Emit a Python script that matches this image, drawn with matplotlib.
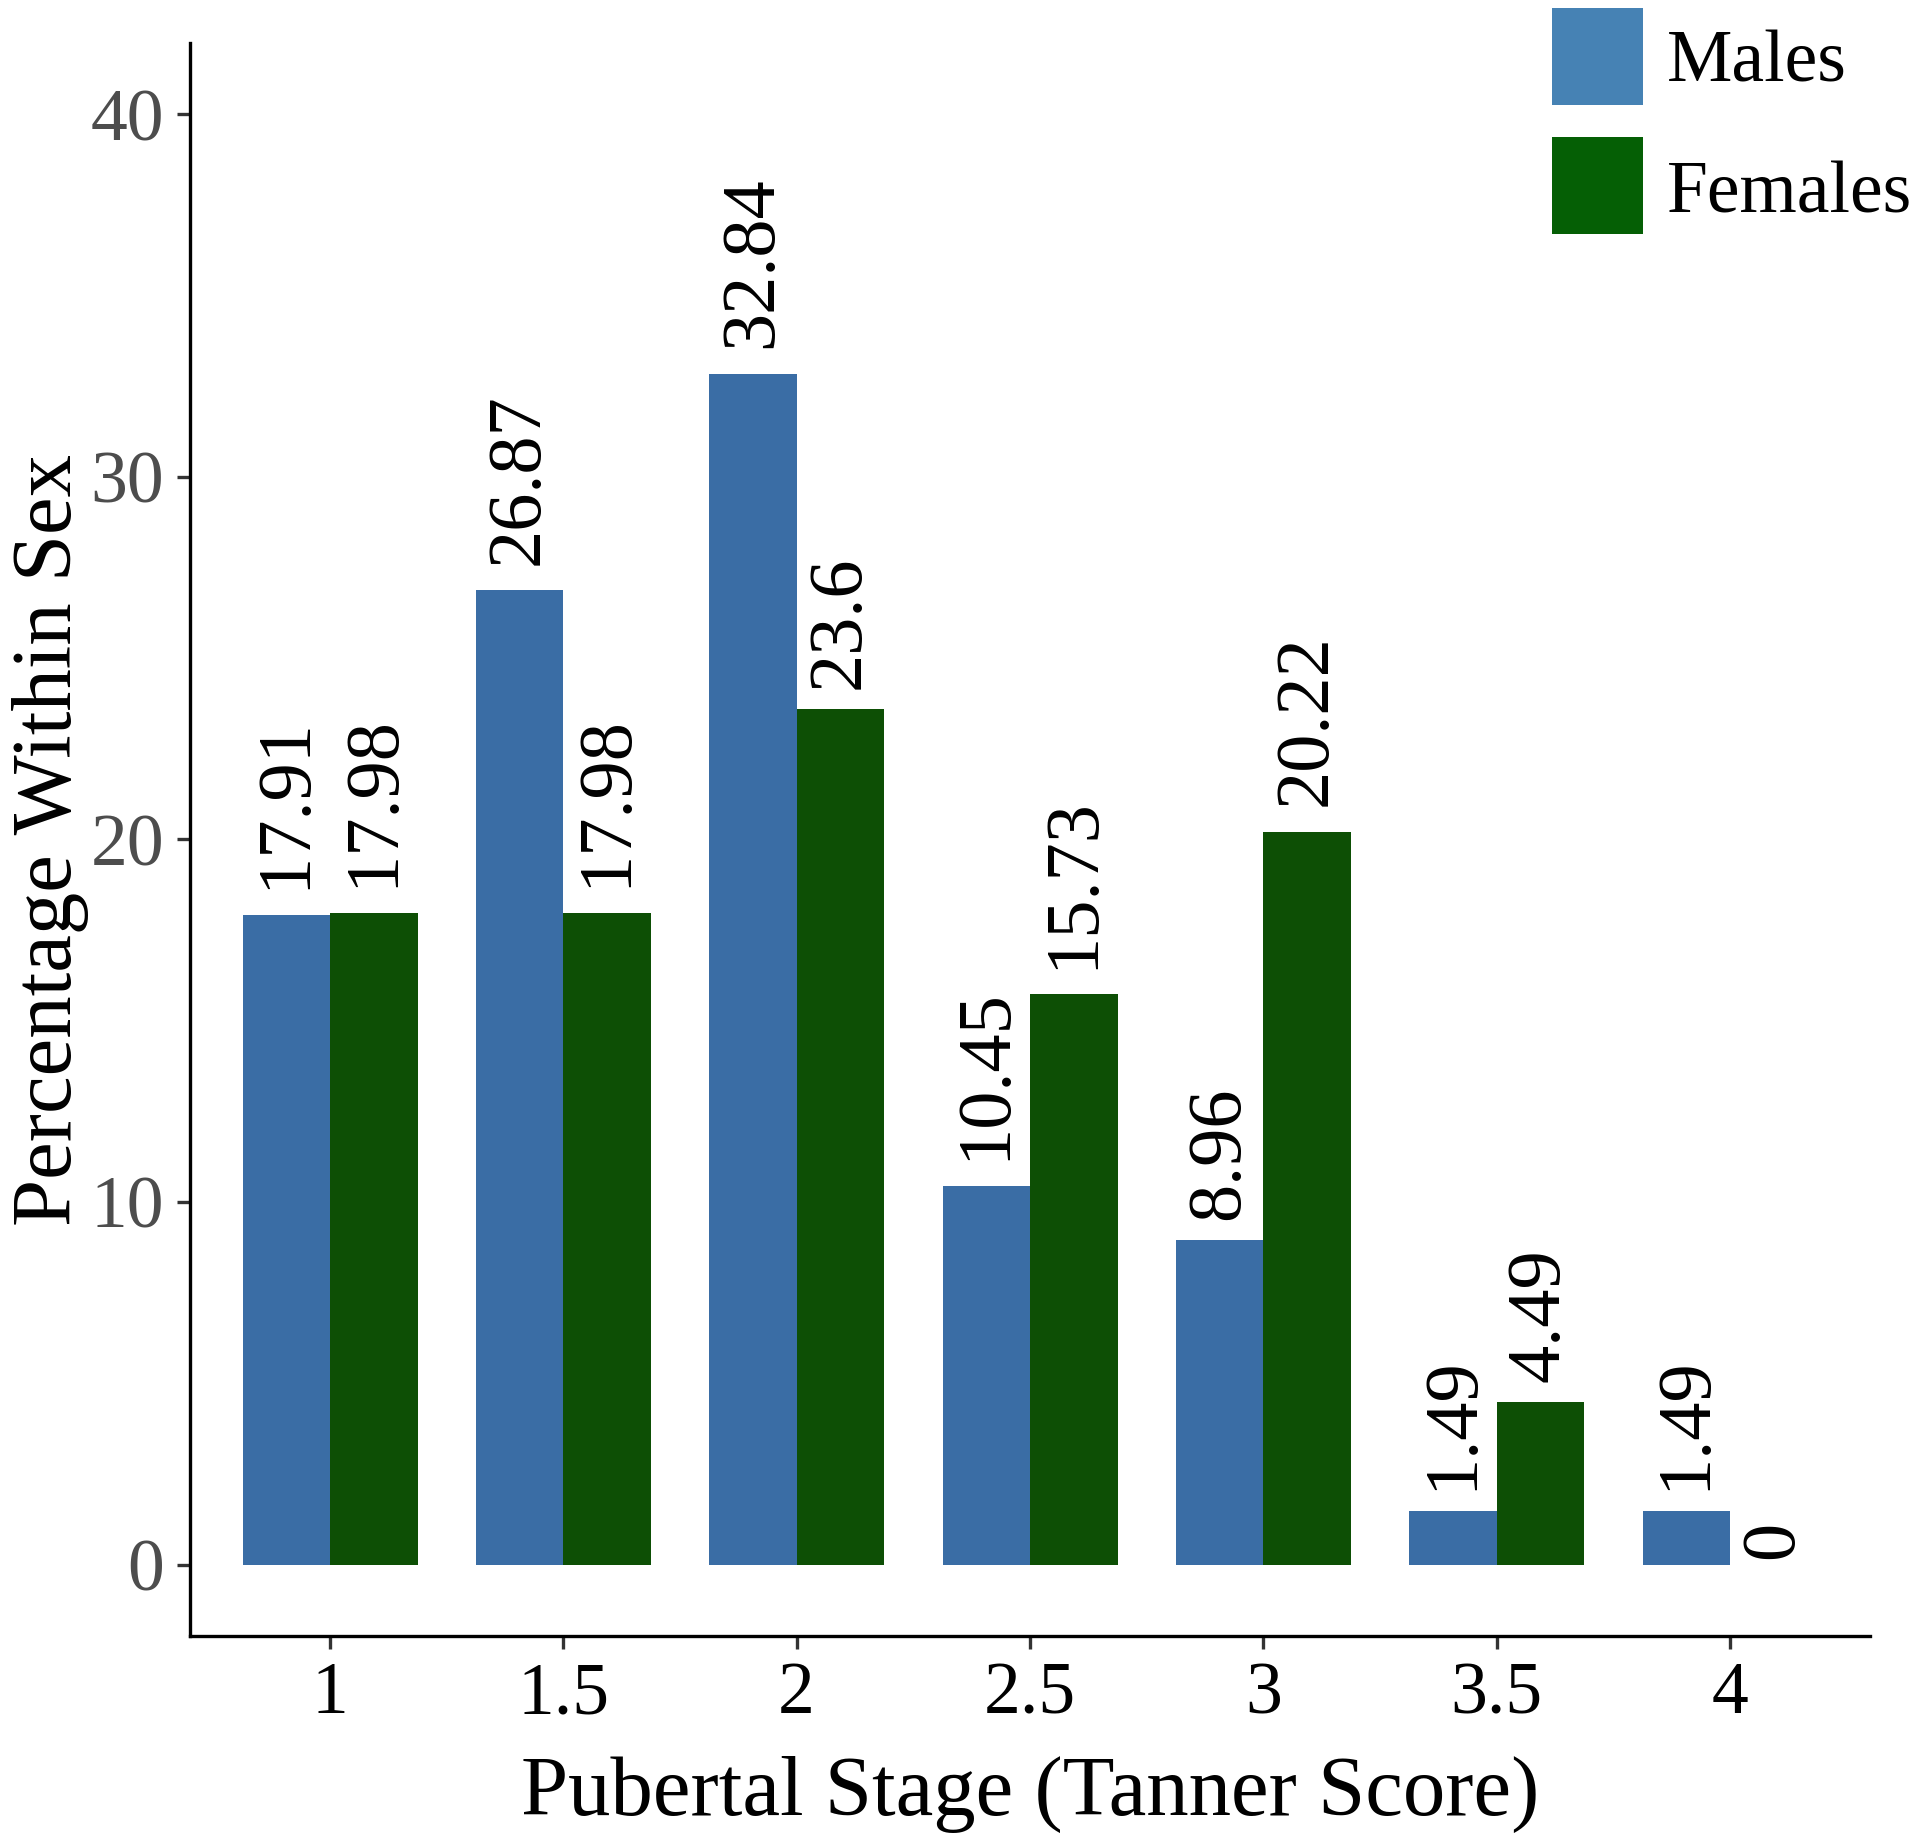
import matplotlib
matplotlib.use("Agg")
import matplotlib.pyplot as plt
from matplotlib.patches import Rectangle
import numpy as np

plt.rcParams['font.family'] = ['Liberation Serif', 'DejaVu Serif']

stages = ["1", "1.5", "2", "2.5", "3", "3.5", "4"]
males = [17.91, 26.87, 32.84, 10.45, 8.96, 1.49, 1.49]
females = [17.98, 17.98, 23.6, 15.73, 20.22, 4.49, 0]
male_labels = ["17.91", "26.87", "32.84", "10.45", "8.96", "1.49", "1.49"]
female_labels = ["17.98", "17.98", "23.6", "15.73", "20.22", "4.49", "0"]
series_names = ["Males", "Females"]
yticks = [0, 10, 20, 30, 40]

bar_colors = ["#3A6DA5", "#0D4F05"]
legend_colors = ["#4682B4", "#055F05"]

W, H = 1920, 1844
fig = plt.figure(figsize=(W / 100, H / 100), dpi=100)
ax = fig.add_axes([190 / W, 1 - 1636 / H, (1870 - 190) / W, (1636 - 43) / H])

x = np.arange(len(stages))
bw = 0.375
ax.bar(x - bw / 2, males, width=bw, color=bar_colors[0], linewidth=0)
ax.bar(x + bw / 2, females, width=bw, color=bar_colors[1], linewidth=0)

fs_lab = 55
texts = []
for xi, v, lbl in zip(x - bw / 2, males, male_labels):
    t = ax.annotate(lbl, (xi, v), xytext=(0, 0), textcoords='offset pixels',
                    rotation=90, ha='center', va='bottom', fontsize=fs_lab, color='black')
    texts.append(t)
for xi, v, lbl in zip(x + bw / 2, females, female_labels):
    t = ax.annotate(lbl, (xi, v), xytext=(0, 0), textcoords='offset pixels',
                    rotation=90, ha='center', va='bottom', fontsize=fs_lab, color='black')
    texts.append(t)

ax.set_xlim(-0.6, 6.6)
ax.set_ylim(-1.97, 41.97)
ax.set_xticks(x)
ax.set_xticklabels(stages)
ax.set_yticks(yticks)
ax.set_yticklabels([str(v) for v in yticks])

for s in ['top', 'right']:
    ax.spines[s].set_visible(False)
for s in ['left', 'bottom']:
    ax.spines[s].set_linewidth(2.4)
    ax.spines[s].set_color('black')

ax.tick_params(axis='both', length=9.5, width=2.4, color='#333333')
ax.tick_params(axis='y', labelsize=53, labelcolor='#4D4D4D', pad=9)
ax.tick_params(axis='x', labelsize=53, labelcolor='black', pad=9)

ax.set_xlabel("Pubertal Stage (Tanner Score)", fontsize=61, labelpad=19)
ax.set_ylabel("Percentage Within Sex", fontsize=61, labelpad=1)

fig.canvas.draw()
for t in texts:
    h = t.get_window_extent().height
    t.xyann = (0, 0.15 * h)

# legend
for i, (name, col) in enumerate(zip(series_names, legend_colors)):
    top = 8 + i * 129
    rect = Rectangle((1552 / W, 1 - (top + 97) / H), 91 / W, 97 / H,
                     transform=fig.transFigure, facecolor=col, edgecolor='none')
    fig.add_artist(rect)
    fig.text(1667 / W, 1 - (top + 56 + 2 * i) / H, name, fontsize=53, va='center', ha='left')

fig.savefig("out.png", dpi=100)
